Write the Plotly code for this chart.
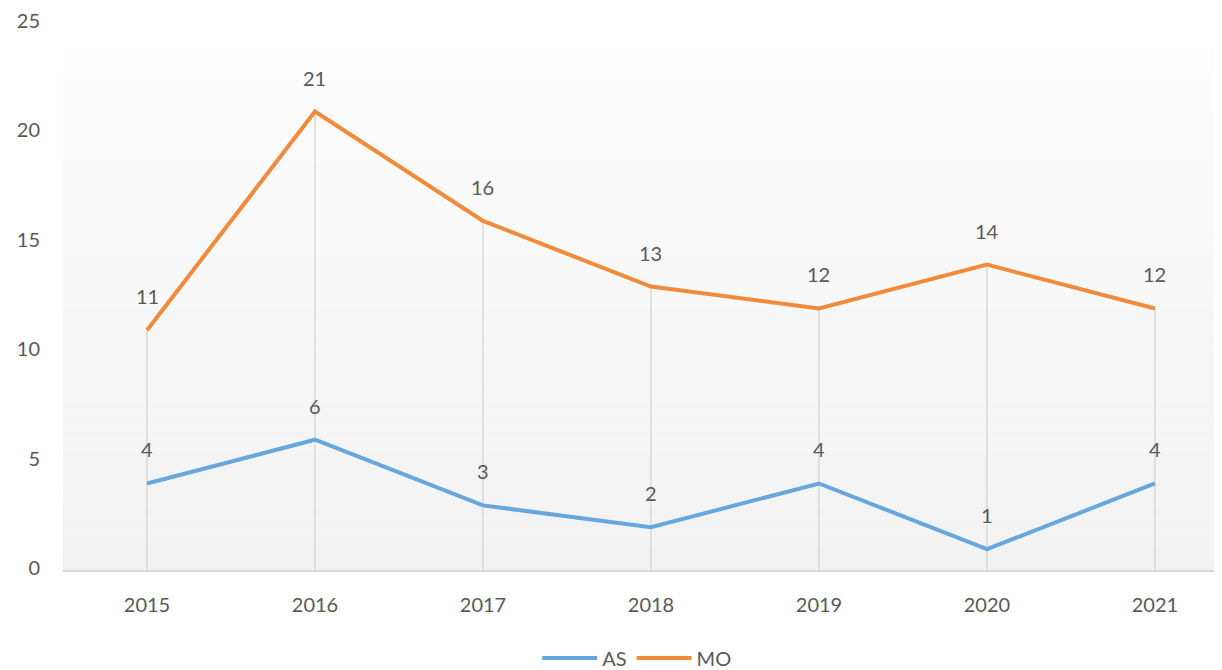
import plotly.graph_objects as go

years = ["2015", "2016", "2017", "2018", "2019", "2020", "2021"]
as_vals = [4, 6, 3, 2, 4, 1, 4]
mo_vals = [11, 21, 16, 13, 12, 14, 12]
y_ticks = [0, 5, 10, 15, 20, 25]

AS_COLOR = "#68A7DD"
MO_COLOR = "#F18B3B"
TXT = "#595959"
FONT = "Lato, 'Open Sans', sans-serif"

fig = go.Figure()

xs = list(range(len(years)))

# gradient background
n = 40
top_val = 24.0
for i in range(n):
    y0 = top_val * i / n
    y1 = top_val * (i + 1) / n
    t = (i + 0.5) / n  # 0 bottom -> 1 top
    c = int(round(242 + (253 - 242) * t))
    fig.add_shape(type="rect", xref="paper", yref="y", x0=0, x1=1, y0=y0, y1=y1,
                  fillcolor=f"rgb({c},{c},{c})", line_width=0, layer="below")

# drop lines
for x, a, m in zip(xs, as_vals, mo_vals):
    fig.add_shape(type="line", xref="x", yref="y", x0=x, x1=x, y0=0, y1=max(a, m),
                  line=dict(color="#D9D9D9", width=1.5), layer="below")

fig.add_trace(go.Scatter(x=xs, y=as_vals, mode="lines", name="AS",
                         line=dict(color=AS_COLOR, width=4)))
fig.add_trace(go.Scatter(x=xs, y=mo_vals, mode="lines", name="MO",
                         line=dict(color=MO_COLOR, width=4)))

for vals in (as_vals, mo_vals):
    for x, v in zip(xs, vals):
        fig.add_annotation(x=x, y=v, text=str(v), showarrow=False, yshift=34,
                           font=dict(size=20, color=TXT, family=FONT))

fig.update_layout(
    width=1214, height=662,
    margin=dict(l=55, r=0, t=7, b=99),
    paper_bgcolor="white", plot_bgcolor="rgba(0,0,0,0)",
    font=dict(family=FONT, size=20, color=TXT),
    showlegend=True,
    legend=dict(orientation="h", x=0.495, xanchor="center", xref="paper",
                y=0.018, yanchor="middle", yref="container",
                font=dict(size=20, color=TXT), itemwidth=55, tracegroupgap=0),
    xaxis=dict(range=[-0.5, 6.399], tickmode="array", tickvals=xs, ticktext=years,
               showgrid=False, zeroline=False, showline=False, ticks="",
               ticklabelstandoff=20, tickfont=dict(size=20, color=TXT)),
    yaxis=dict(range=[0, 25], tickmode="array", tickvals=y_ticks,
               showgrid=False, zeroline=True, zerolinecolor="#D9D9D9", zerolinewidth=2,
               showline=False, ticks="", ticklabelstandoff=22, ticklabelshift=-3,
               ticklabeloverflow="allow",
               tickfont=dict(size=20, color=TXT)),
)

fig.write_html("out.html")
